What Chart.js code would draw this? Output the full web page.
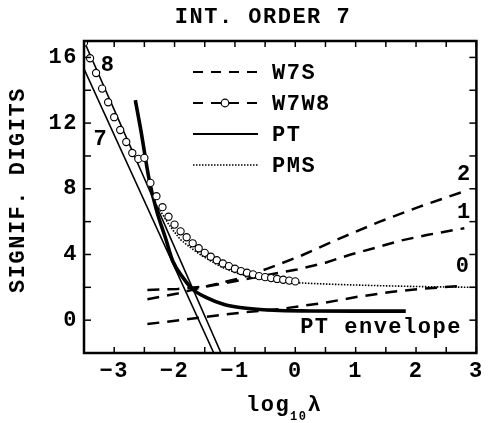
<!DOCTYPE html>
<html>
<head>
<meta charset="utf-8">
<script src="https://cdn.jsdelivr.net/npm/chart.js@4/dist/chart.umd.min.js"></script>
<style>
  html, body { margin: 0; padding: 0; background: #fff; }
  canvas { display: block; }
</style>
</head>
<body>
<canvas id="chart" width="488" height="423"></canvas>
<script>
// ─── Data ─────────────────────────────────────────────────

const xTicks = [-3, -2, -1, 0, 1, 2, 3];
const xMinor = [-3.5, -2.5, -1.5, -0.5, 0.5, 1.5, 2.5];
const yTicks = [0, 4, 8, 12, 16];
const yMinor = [-2, 2, 6, 10, 14];

// PT, order 7 and 8 (straight lines)
const pt7X = [-3.5, -1.35];
const pt7Y = [15.3, -2];
const pt8X = [-3.5, -1.23];
const pt8Y = [17.0, -2];

// PT envelope (thick)
const envX = [-2.65, -2.56, -2.42, -2.3, -2.15, -2.03, -1.86, -1.7, -1.47, -1.19, -0.92, -0.36, 0.25, 1.0, 1.83];
const envY = [13.4, 11.6, 8.55, 6.7, 5.0, 3.6, 2.59, 1.88, 1.37, 0.97, 0.77, 0.6, 0.56, 0.55, 0.55];

// W7W8 (open circles)
const w7w8X = [-3.5, -3.4, -3.3, -3.2, -3.1, -3.0, -2.9, -2.8, -2.7, -2.6, -2.5, -2.4, -2.3, -2.2, -2.1, -2.0,
  -1.9, -1.8, -1.7, -1.6, -1.5, -1.4, -1.3, -1.2, -1.1, -1.0, -0.9, -0.8, -0.7, -0.6, -0.5, -0.4, -0.3, -0.2, -0.1, 0.0];
const w7w8Y = [16.9, 15.95, 15.05, 14.1, 13.27, 12.36, 11.58, 10.85, 10.18, 9.82, 9.88, 8.36, 7.55, 6.88, 6.3, 5.82,
  5.41, 5.05, 4.68, 4.38, 4.1, 3.86, 3.65, 3.45, 3.29, 3.13, 2.99, 2.89, 2.79, 2.68, 2.62, 2.56, 2.51, 2.46, 2.41, 2.36];

// PMS (dotted)
const pmsX = [-2.3, -2.2, -2.1, -2.0, -1.9, -1.8, -1.6, -1.4, -1.2, -1.0, -0.8, -0.6, -0.4, -0.2, 0, 0.5, 1, 1.5, 2, 2.5, 3];
const pmsY = [7.0, 6.45, 5.85, 5.35, 4.9, 4.6, 4.05, 3.6, 3.2, 2.9, 2.68, 2.52, 2.42, 2.34, 2.28, 2.2, 2.14, 2.09, 2.05, 2.02, 2.0];

// W7S, labels 0, 1, 2 (dashed)
const w7s0X = [-2.45, -1.92, -0.92, -0.25, 0.47, 1.03, 1.58, 2.13, 2.8];
const w7s0Y = [-0.24, 0.0, 0.45, 0.68, 1.05, 1.42, 1.72, 1.92, 2.1];
const w7s1X = [-2.45, -1.95, -1.45, -0.75, 0.03, 0.5, 0.92, 1.37, 1.75, 2.2, 2.8];
const w7s1Y = [1.84, 1.9, 2.06, 2.55, 3.09, 3.5, 4.0, 4.45, 4.85, 5.2, 5.6];
const w7s2X = [-2.45, -1.95, -1.45, -0.92, -0.45, 0.08, 0.75, 1.4, 2.05, 2.8];
const w7s2Y = [1.27, 1.62, 2.08, 2.55, 3.15, 3.9, 5.0, 6.0, 6.9, 7.85];

const FONT = '"Liberation Mono", "DejaVu Sans Mono", monospace';
const SPACING = '1.5px';

function pts(xs, ys) { return xs.map((x, i) => ({ x, y: ys[i] })); }

function lineSet(xs, ys, o) {
  return Object.assign({
    data: pts(xs, ys), showLine: true, pointRadius: 0, borderColor: '#000',
    backgroundColor: '#000', borderWidth: 1.6, tension: 0, clip: 0
  }, o);
}

// ─── Decorations: frame, inward ticks, titles, legend, labels ─────

const decorations = {
  id: 'decorations',
  beforeDraw(chart) {
    chart.ctx.letterSpacing = SPACING;
  },
  afterDraw(chart) {
    const { ctx, chartArea: a, scales: { x, y } } = chart;
    const seg = (x1, y1, x2, y2) => { ctx.beginPath(); ctx.moveTo(x1, y1); ctx.lineTo(x2, y2); ctx.stroke(); };
    ctx.save();
    ctx.letterSpacing = SPACING;
    ctx.strokeStyle = '#000';
    ctx.fillStyle = '#000';

    ctx.lineWidth = 1.5;
    [...xTicks, ...xMinor].forEach(v => {
      const p = x.getPixelForValue(v);
      seg(p, a.bottom, p, a.bottom - 6);
      seg(p, a.top, p, a.top + 6);
    });
    [...yTicks, ...yMinor].forEach(v => {
      const p = y.getPixelForValue(v);
      seg(a.left, p, a.left + 7, p);
      seg(a.right, p, a.right - 7, p);
    });
    ctx.lineWidth = 2.5;
    ctx.strokeRect(a.left, a.top, a.right - a.left, a.bottom - a.top);

    // title
    ctx.font = 'bold 22px ' + FONT;
    ctx.textAlign = 'center';
    ctx.textBaseline = 'middle';
    ctx.fillText('INT. ORDER 7', 263, 17);

    // y title
    ctx.save();
    ctx.translate(18, 190);
    ctx.rotate(-Math.PI / 2);
    ctx.fillText('SIGNIF. DIGITS', 0, 0);
    ctx.restore();

    // x title log10 lambda
    ctx.textAlign = 'left';
    ctx.textBaseline = 'alphabetic';
    ctx.font = 'bold 22px ' + FONT;
    let cx = 246;
    ctx.fillText('log', cx, 411);
    cx += ctx.measureText('log').width;
    ctx.font = 'bold 12px ' + FONT;
    ctx.fillText('10', cx, 420);
    cx += ctx.measureText('10').width;
    ctx.font = 'bold 22px ' + FONT;
    ctx.fillText('λ', cx, 411);

    // curve labels
    ctx.font = 'bold 22px ' + FONT;
    ctx.textAlign = 'center';
    ctx.textBaseline = 'middle';
    const lab = (t, vx, vy) => ctx.fillText(t, x.getPixelForValue(vx), y.getPixelForValue(vy));
    lab('8', -3.1, 15.5);
    lab('7', -3.22, 11.0);
    lab('2', 2.8, 8.85);
    lab('1', 2.8, 6.55);
    lab('0', 2.78, 3.27);
    lab('PT envelope', 1.42, -0.42);

    // legend
    const lx1 = 193, lx2 = 258, tx = 272;
    const rows = [72, 103, 134, 165];
    ctx.textAlign = 'left';
    ctx.lineWidth = 2;
    ctx.setLineDash([10, 8]);
    seg(lx1, rows[0], lx2, rows[0]);
    seg(lx1, rows[1], lx2, rows[1]);
    ctx.setLineDash([]);
    seg(lx1, rows[2], lx2, rows[2]);
    ctx.lineWidth = 1.5;
    ctx.setLineDash([1.5, 1.5]);
    seg(lx1, rows[3], lx2, rows[3]);
    ctx.setLineDash([]);
    ctx.lineWidth = 1.2;
    ctx.fillStyle = '#fff';
    ctx.beginPath();
    ctx.arc(225, rows[1], 3.8, 0, Math.PI * 2);
    ctx.fill();
    ctx.stroke();
    ctx.fillStyle = '#000';
    ['W7S', 'W7W8', 'PT', 'PMS'].forEach((t, i) => ctx.fillText(t, tx, rows[i] + 1));
    ctx.restore();
  }
};

// ─── Chart ────────────────────────────────────────────────

new Chart(document.getElementById('chart'), {
  type: 'scatter',
  data: {
    datasets: [
      lineSet(w7w8X, w7w8Y, {
        showLine: false, pointRadius: 3.6, pointBorderWidth: 1.1,
        pointBackgroundColor: '#fff', pointBorderColor: '#000', order: 0
      }),
      lineSet(pmsX, pmsY, { borderWidth: 1.6, borderDash: [1.5, 1.5], order: 1 }),
      lineSet(envX, envY, { borderWidth: 3.6, cubicInterpolationMode: 'monotone', tension: 0.4, order: 2 }),
      lineSet(pt7X, pt7Y, { borderWidth: 1.6, order: 3 }),
      lineSet(pt8X, pt8Y, { borderWidth: 1.6, order: 3 }),
      lineSet(w7s0X, w7s0Y, { borderWidth: 2.5, borderDash: [12, 8], order: 4 }),
      lineSet(w7s1X, w7s1Y, { borderWidth: 2.5, borderDash: [12, 8], order: 4 }),
      lineSet(w7s2X, w7s2Y, { borderWidth: 2.5, borderDash: [12, 8], order: 4 })
    ]
  },
  options: {
    responsive: false,
    animation: false,
    events: [],
    layout: { padding: { top: 41, right: 11, left: 0, bottom: 0 } },
    plugins: { legend: { display: false }, title: { display: false }, tooltip: { enabled: false } },
    scales: {
      x: {
        type: 'linear', min: -3.5, max: 3,
        afterBuildTicks: s => { s.ticks = xTicks.map(v => ({ value: v })); },
        afterFit: s => { s.height = 70; },
        grid: { display: false, drawTicks: false },
        border: { display: false },
        ticks: {
          padding: 5, color: '#000',
          font: { family: FONT, size: 22, weight: 'bold' },
          callback: v => (v < 0 ? '\u2212' + Math.abs(v) : String(v))
        }
      },
      y: {
        type: 'linear', min: -2, max: 17,
        afterBuildTicks: s => { s.ticks = yTicks.map(v => ({ value: v })); },
        afterFit: s => { s.width = 84; },
        grid: { display: false, drawTicks: false },
        border: { display: false },
        ticks: {
          padding: 6, color: '#000',
          font: { family: FONT, size: 22, weight: 'bold' }
        }
      }
    }
  },
  plugins: [decorations]
});
</script>
</body>
</html>
